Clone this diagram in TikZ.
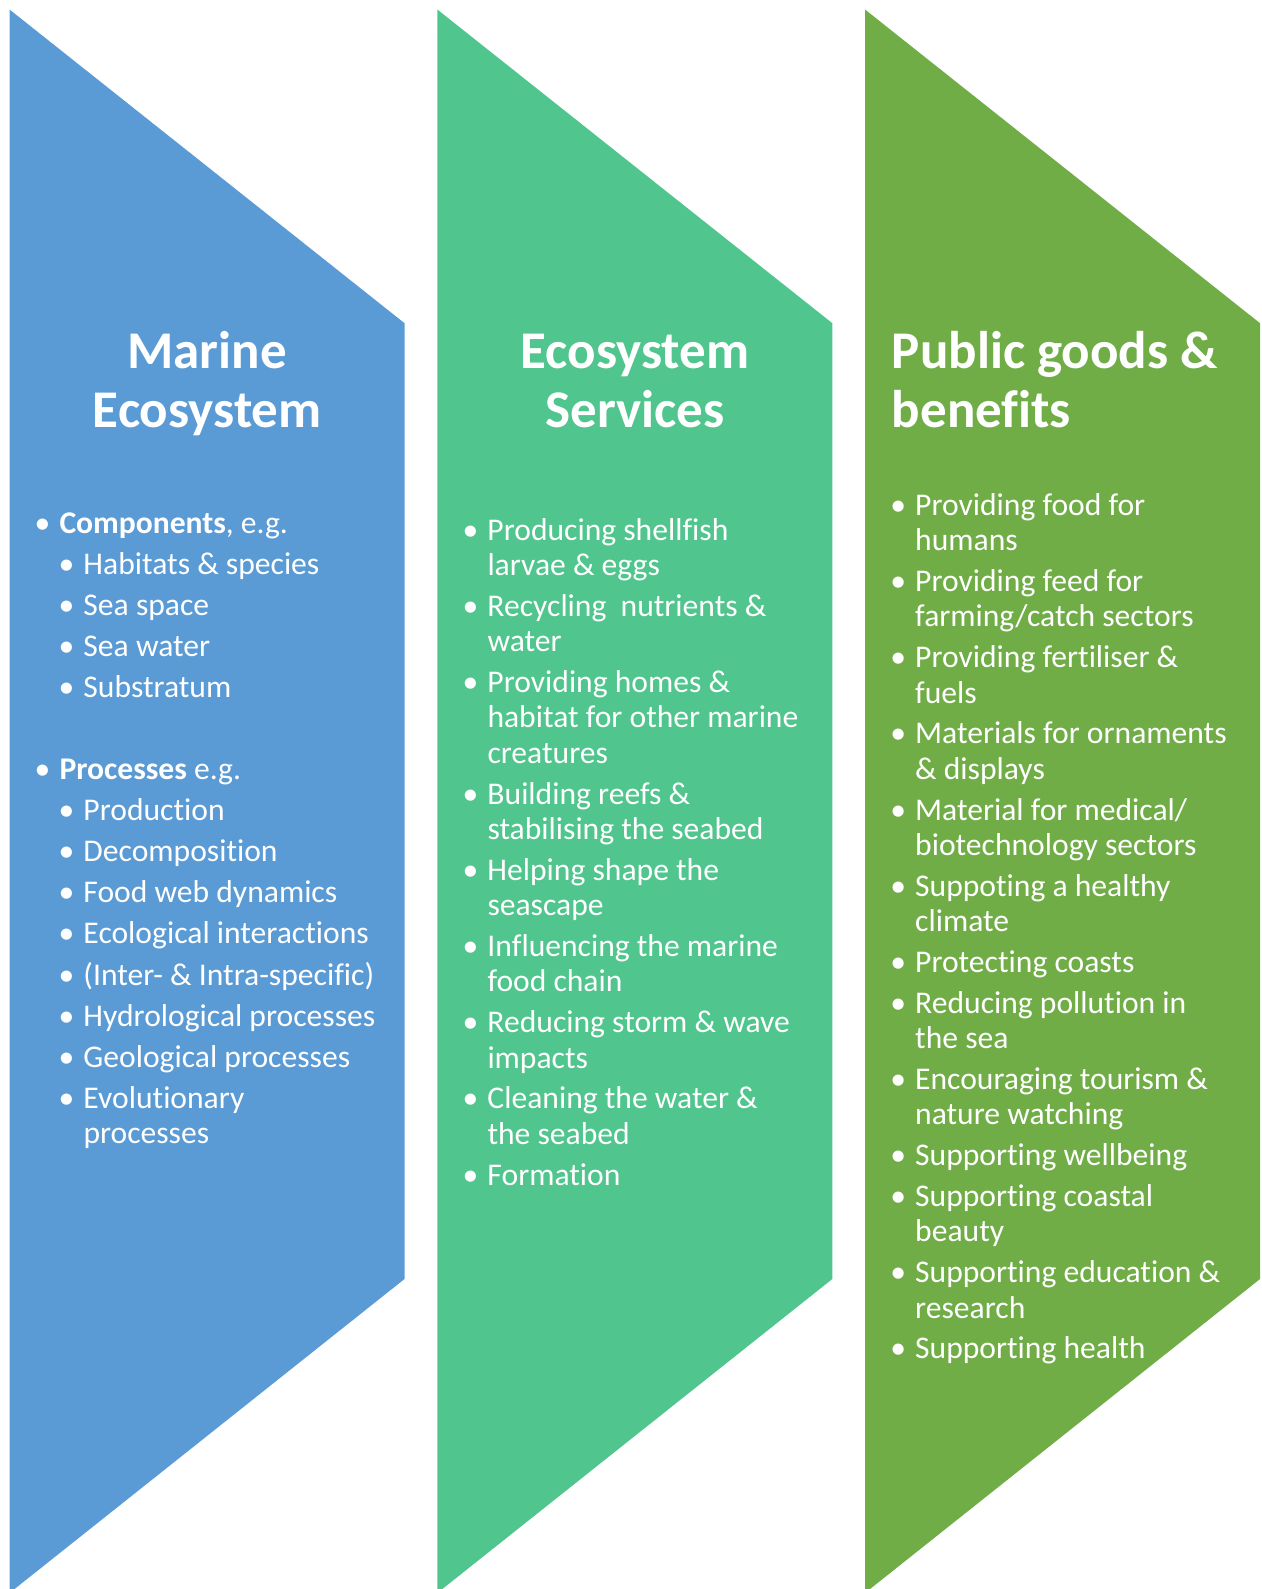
\documentclass[tikz,border=0pt]{standalone}
\usepackage{fontspec}
\setmainfont{Carlito}[Ligatures=NoCommon]
\definecolor{blueband}{HTML}{5B9BD5}
\definecolor{tealband}{HTML}{50C58D}
\definecolor{greenband}{HTML}{70AD47}
% bullet centred 17pt to the left of the text start
\newcommand{\bul}{\leavevmode\llap{\makebox[0pt]{\textbullet}\hspace{17pt}}}
\newcommand{\sub}{\leavevmode\hspace*{24pt}\bul}
\newcommand{\itemgap}{\\[5.4pt]}
\newcommand{\subgap}{\\[5.7pt]}
\begin{document}
\begin{tikzpicture}[x=1pt,y=-1pt,
  heading/.style={anchor=base west, inner sep=0pt, text=white,
    font=\fontsize{53}{59}\selectfont\bfseries},
  listing/.style={anchor=base west, inner sep=0pt, text=white,
    font=\fontsize{31.6}{35.4}\selectfont}]
\useasboundingbox (0,0) rectangle (1261,1589);
\clip (0,0) rectangle (1261,1589);

% the three pentagon bands
\foreach \l/\c in {9.5/blueband, 437.3/tealband, 865/greenband}{
  \fill[\c] (\l,9.5) -- (\l+395,323.2) -- (\l+395,1279) -- (\l,1593) -- cycle;
}

% headings
\node[heading] (hmarine) at (9.5,368.3)
  {\parbox[t]{395pt}{\centering Marine\\Ecosystem}};
\node[heading] (hservices) at (437.3,368.3)
  {\parbox[t]{395pt}{\centering Ecosystem\\Services}};
\node[heading] (hgoods) at (891.7,368.3)
  {\parbox[t]{369pt}{\raggedright Public goods \&\\benefits}};

% marine ecosystem lists
\node[listing] (components) at (59.3,533.5) {\parbox[t]{500pt}{\raggedright
\bul\textbf{Components}, e.g.\subgap
\sub Habitats \& species\subgap
\sub Sea space\subgap
\sub Sea water\subgap
\sub Substratum}};

\node[listing] (processes) at (59.3,779.5) {\parbox[t]{500pt}{\raggedright
\bul\textbf{Processes} e.g.\subgap
\sub Production\subgap
\sub Decomposition\subgap
\sub Food web dynamics\subgap
\sub Ecological interactions\subgap
\sub (Inter- \& Intra-specific)\subgap
\sub Hydrological processes\subgap
\sub Geological processes\subgap
\sub Evolutionary\\
\hspace*{24pt}processes}};

% ecosystem services list
\node[listing] (services) at (487.3,540) {\parbox[t]{500pt}{\raggedright
\bul Producing shellfish\\
larvae \& eggs\itemgap
\bul Recycling\ \ nutrients \&\\
water\itemgap
\bul Providing homes \&\\
habitat for other marine\\
creatures\itemgap
\bul Building reefs \&\\
stabilising the seabed\itemgap
\bul Helping shape the\\
seascape\itemgap
\bul Influencing the marine\\
food chain\itemgap
\bul Reducing storm \& wave\\
impacts\itemgap
\bul Cleaning the water \&\\
the seabed\itemgap
\bul Formation}};

% public goods and benefits list
\node[listing] (benefits) at (915,515.3) {\parbox[t]{500pt}{\raggedright
\bul Providing food for\\
humans\itemgap
\bul Providing feed for\\
farming/catch sectors\itemgap
\bul Providing fertiliser \&\\
fuels\itemgap
\bul Materials for ornaments\\
\& displays\itemgap
\bul Material for medical/\\
biotechnology sectors\itemgap
\bul Suppoting a healthy\\
climate\itemgap
\bul Protecting coasts\itemgap
\bul Reducing pollution in\\
the sea\itemgap
\bul Encouraging tourism \&\\
nature watching\itemgap
\bul Supporting wellbeing\itemgap
\bul Supporting coastal\\
beauty\itemgap
\bul Supporting education \&\\
research\itemgap
\bul Supporting health}};
\end{tikzpicture}
\end{document}
